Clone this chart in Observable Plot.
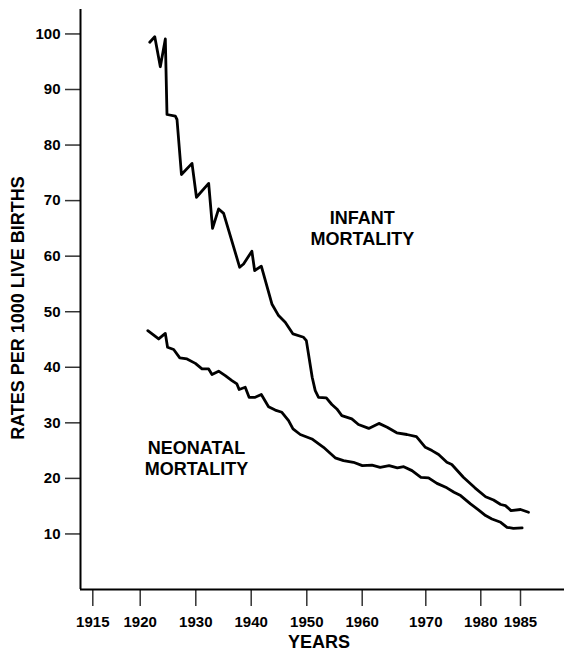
<!DOCTYPE html>
<html>
<head>
<meta charset="utf-8">
<script src="https://cdn.jsdelivr.net/npm/d3@7"></script>
<script src="https://cdn.jsdelivr.net/npm/@observablehq/plot@0.6"></script>
<style>
  html, body { margin: 0; padding: 0; background: #fff; }
  #chart svg { display: block; }
</style>
</head>
<body>
<div id="chart"></div>
<script>
// Infant mortality (rates per 1000 live births)
const infantYears = [1921.0, 1921.9, 1922.9, 1923.8, 1924.1, 1925.6, 1925.9, 1926.7, 1928.6, 1929.4,
  1931.6, 1932.3, 1933.4, 1934.3, 1937.2, 1937.9, 1939.4, 1939.9, 1941.1, 1943.0,
  1944.2, 1945.4, 1946.8, 1948.7, 1949.2, 1950.25, 1950.8, 1951.4, 1952.8, 1953.8,
  1954.7, 1955.6, 1957.4, 1958.6, 1960.4, 1962.0, 1963.3, 1964.8, 1966.4, 1967.9,
  1969.3, 1970.4, 1971.6, 1973.1, 1974.0, 1976.1, 1978.2, 1980.1, 1981.1, 1982.0,
  1982.6, 1983.3, 1984.5, 1985.5];
const infantRates = [98.5, 99.5, 94.1, 99.1, 85.5, 85.2, 84.6, 74.7, 76.7, 70.6,
  73.1, 65.0, 68.5, 67.7, 58.0, 58.6, 60.9, 57.4, 58.2, 51.4,
  49.3, 48.1, 46.0, 45.4, 44.8, 38.2, 35.8, 34.6, 34.5, 33.3,
  32.5, 31.3, 30.7, 29.7, 29.0, 29.9, 29.2, 28.2, 27.9, 27.5,
  25.6, 25.0, 24.3, 22.9, 22.5, 20.2, 18.3, 16.7, 16.1, 15.3,
  15.1, 14.2, 14.4, 13.9];

// Neonatal mortality
const neonatalYears = [1920.65, 1922.6, 1923.8, 1924.2, 1925.3, 1926.4, 1927.7, 1929.2, 1930.4, 1931.6,
  1932.2, 1933.4, 1934.6, 1935.8, 1936.7, 1937.1, 1938.2, 1938.9, 1940.0, 1941.1,
  1942.4, 1943.6, 1944.8, 1946.0, 1946.8, 1948.1, 1950.2, 1952.3, 1954.4, 1955.9,
  1957.7, 1959.3, 1960.9, 1962.2, 1963.6, 1964.9, 1965.9, 1967.2, 1968.6, 1969.8,
  1971.3, 1973.1, 1974.4, 1975.6, 1977.4, 1978.9, 1980.1, 1980.9, 1982.0, 1982.8,
  1983.6, 1984.7];
const neonatalRates = [46.6, 45.1, 46.1, 43.6, 43.2, 41.7, 41.5, 40.7, 39.7, 39.7,
  38.7, 39.3, 38.5, 37.6, 37.0, 36.0, 36.4, 34.6, 34.6, 35.1,
  32.9, 32.3, 31.9, 30.4, 28.9, 27.9, 27.1, 25.6, 23.7, 23.2,
  22.9, 22.3, 22.4, 22.0, 22.3, 21.9, 22.1, 21.4, 20.2, 20.1,
  19.1, 18.3, 17.5, 16.9, 15.4, 14.3, 13.3, 12.7, 12.1, 11.2,
  11.0, 11.1];

// Tick labels
const xTicks = [1915, 1920, 1930, 1940, 1950, 1960, 1970, 1980, 1985];
const yTicks = [10, 20, 30, 40, 50, 60, 70, 80, 90, 100];

const infant = infantYears.map((year, i) => ({year, rate: infantRates[i]}));
const neonatal = neonatalYears.map((year, i) => ({year, rate: neonatalRates[i]}));

// The original's year axis is drawn with uneven spacing between labelled years
const xScaleDomain = [1910, ...xTicks, 1990];
const xScaleRange = [80, 112.3, 143.7, 199.3, 254.7, 310.3, 365.7, 429.3, 484.3, 524, 564];

const font = "'Liberation Sans', Arial, Helvetica, sans-serif";

const chart = Plot.plot({
  width: 564,
  height: 653,
  marginLeft: 80,
  marginRight: 0,
  marginTop: 9,
  marginBottom: 64,
  style: {fontFamily: font, fontWeight: "bold", fontSize: "15px", background: "#fff", color: "#000"},
  x: {type: "linear", domain: xScaleDomain, range: xScaleRange},
  y: {domain: [0, 104.4]},
  marks: [
    Plot.axisY(yTicks, {tickSize: 15, tickPadding: 5, fontSize: 15, fontWeight: "bold",
      stroke: "#333", strokeWidth: 1.5, label: null}),
    Plot.axisX(xTicks.slice(1), {tickSize: 17, tickPadding: 10, fontSize: 15, fontWeight: "bold",
      stroke: "#333", strokeWidth: 1.5, tickFormat: d => String(d), dx: -4, label: null}),
    Plot.axisX([1915], {tickSize: 17, tickPadding: 10, fontSize: 15, fontWeight: "bold",
      stroke: "#333", strokeWidth: 1.5, tickFormat: d => String(d), dx: -20, label: null}),
    Plot.ruleY([0], {stroke: "#000", strokeWidth: 2}),
    Plot.ruleX([1910], {stroke: "#000", strokeWidth: 2}),
    Plot.line(infant, {x: "year", y: "rate", stroke: "#000", strokeWidth: 2.8}),
    Plot.line(neonatal, {x: "year", y: "rate", stroke: "#000", strokeWidth: 2.8}),
    Plot.text(["INFANT\nMORTALITY"], {x: 1959.3, y: 65.1, fontSize: 18, fontWeight: "bold", lineHeight: 1.18, fill: "#000"}),
    Plot.text(["NEONATAL\nMORTALITY"], {x: 1929.4, y: 23.7, fontSize: 18, fontWeight: "bold", lineHeight: 1.18, fill: "#000"}),
    Plot.text(["YEARS"], {frameAnchor: "bottom", dy: 58, dx: -3.5, fontSize: 18, fontWeight: "bold", fill: "#000"}),
    Plot.text(["RATES PER 1000 LIVE BIRTHS"], {frameAnchor: "left", textAnchor: "middle", rotate: -90, dx: -62, dy: 8.5, fontSize: 18, fontWeight: "bold", fill: "#000"})
  ]
});

document.getElementById("chart").appendChild(chart);
</script>
</body>
</html>
